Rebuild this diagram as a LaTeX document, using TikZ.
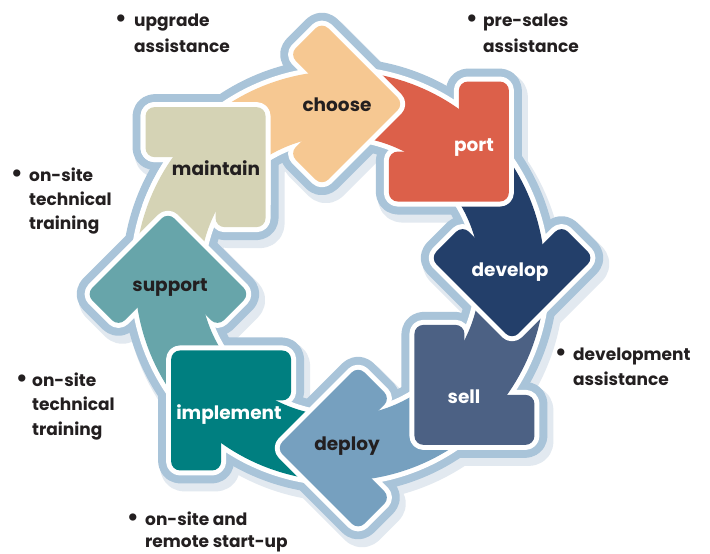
\documentclass[tikz,border=0pt]{standalone}
\usepackage{fontspec}
\setmainfont{Poppins}
\definecolor{cChoose}{RGB}{246,200,146}
\definecolor{cPort}{RGB}{220,96,74}
\definecolor{cDevelop}{RGB}{35,63,106}
\definecolor{cSell}{RGB}{76,97,132}
\definecolor{cDeploy}{RGB}{118,160,191}
\definecolor{cImplement}{RGB}{0,127,128}
\definecolor{cSupport}{RGB}{103,165,170}
\definecolor{cMaintain}{RGB}{213,211,181}
\definecolor{cRing}{RGB}{169,196,217}
\definecolor{cText}{RGB}{35,31,32}
\definecolor{cShadow}{RGB}{226,233,240}
\def\cx{340}\def\cy{278}\def\R{173}\def\rin{140}\def\rout{205}\def\nn{70}
\newcommand\setpiece[2]{%
  \pgfmathsetmacro\thk{96-45*#1}%
  \pgfmathsetmacro\aA{\thk+45}%
  \pgfmathsetmacro\aB{\thk-10}%
  \pgfmathsetmacro\rot{45-45*#1}%
  \pgfmathsetmacro\hx{\cx+\R*cos(\thk)}%
  \pgfmathsetmacro\hy{\cy+\R*sin(\thk)}%
  \def\hh{#2}}
\def\tailp{([shift={(\cx,\cy)}]\aA:\rout) arc[start angle=\aA,end angle=\aB,radius=\rout] -- ([shift={(\cx,\cy)}]\aB:\rin) arc[start angle=\aB,end angle=\aA,radius=\rin] -- cycle}
\def\headp{(\hh,\hh) -- (\hh,-\hh) -- (-\hh,-\hh) -- (-\hh,\hh-\nn) -- (-\hh+\nn,\hh-\nn) -- (-\hh+\nn,\hh) -- cycle}
\newcommand\outlinepiece[3]{% k, h, style
  \setpiece{#1}{#2}%
  \path[#3] \tailp;
  \path[#3,shift={(\hx,\hy)},rotate=\rot,rounded corners=9pt] \headp;}
\newcommand\drawpiece[3]{% k, h, colour
  \setpiece{#1}{#2}%
  \path[edgew] \tailp;
  \path[edgew,shift={(\hx,\hy)},rotate=\rot,rounded corners=9pt] \headp;
  \path[fill=#3] \tailp;
  \path[fill=#3,shift={(\hx,\hy)},rotate=\rot,rounded corners=9pt] \headp;}
\tikzset{
  edgew/.style={draw=white,line width=10pt,line join=round},
  ringst/.style={draw=cRing,fill=cRing,line width=26pt,line join=round},
  shadowst/.style={draw=cShadow,fill=cShadow,line width=30pt,line join=round,xshift=4pt,yshift=-6pt},
  lbl/.style={font=\bfseries\fontsize{18.5}{22}\selectfont,inner sep=0pt},
  dark/.style={lbl,text=cText},
  light/.style={lbl,text=white},
  note/.style={font=\bfseries\fontsize{17}{22}\selectfont,text=cText,inner sep=0pt,anchor=base west},
  bul/.style={font=\bfseries\fontsize{24}{22}\selectfont,text=cText,inner sep=0pt,anchor=center},
}
\begin{document}
\begin{tikzpicture}[x=1pt,y=1pt]
\fill[white] (0,0) rectangle (710,554);
\useasboundingbox (0,0) rectangle (710,554);
% shadow and light blue ring
\foreach \k/\h in {0/58,1/60,2/58,3/60,4/58,5/60,6/58,7/60}{\outlinepiece{\k}{\h}{shadowst}}
\foreach \k/\h in {0/58,1/60,2/58,3/60,4/58,5/60,6/58,7/60}{\outlinepiece{\k}{\h}{ringst}}
% pieces
\drawpiece{7}{60}{cMaintain}
\drawpiece{6}{58}{cSupport}
\drawpiece{5}{60}{cImplement}
\drawpiece{4}{58}{cDeploy}
\drawpiece{3}{60}{cSell}
\drawpiece{2}{58}{cDevelop}
\drawpiece{1}{60}{cPort}
\drawpiece{0}{58}{cChoose}
\begin{scope}
\clip (0,349) rectangle (710,554);
\drawpiece{7}{60}{cMaintain}
\end{scope}
% labels
\node[dark]  (choose)    at (337,449) {choose};
\node[light] (port)      at (474,406) {port};
\node[light] (develop)   at (510,282) {develop};
\node[light] (sell)      at (464,157) {sell};
\node[dark]  (deploy)    at (347,108) {deploy};
\node[light] (implement) at (229,139) {implement};
\node[dark]  (support)   at (170,266) {support};
\node[dark]  (maintain)  at (216,386) {maintain};
% annotations
\node[bul] (b1) at (121,533) {\textbullet};
\node[note] (n1a) at (134,527) {upgrade};
\node[note] (n1b) at (134,501) {assistance};
\node[bul] (b2) at (472,533) {\textbullet};
\node[note] (n2a) at (483,527) {pre-sales};
\node[note] (n2b) at (483,501) {assistance};
\node[bul] (b3) at (17,378) {\textbullet};
\node[note] (n3a) at (29,372) {on-site};
\node[note] (n3b) at (29,348) {technical};
\node[note] (n3c) at (29,324) {training};
\node[bul] (b4) at (561,199) {\textbullet};
\node[note] (n4a) at (573,193) {development};
\node[note] (n4b) at (573,168) {assistance};
\node[bul] (b5) at (22,173) {\textbullet};
\node[note] (n5a) at (32,167) {on-site};
\node[note] (n5b) at (32,143) {technical};
\node[note] (n5c) at (32,118) {training};
\node[bul] (b6) at (133,34) {\textbullet};
\node[note] (n6a) at (145,28) {on-site and};
\node[note] (n6b) at (145,6) {remote start-up};
\end{tikzpicture}
\end{document}
